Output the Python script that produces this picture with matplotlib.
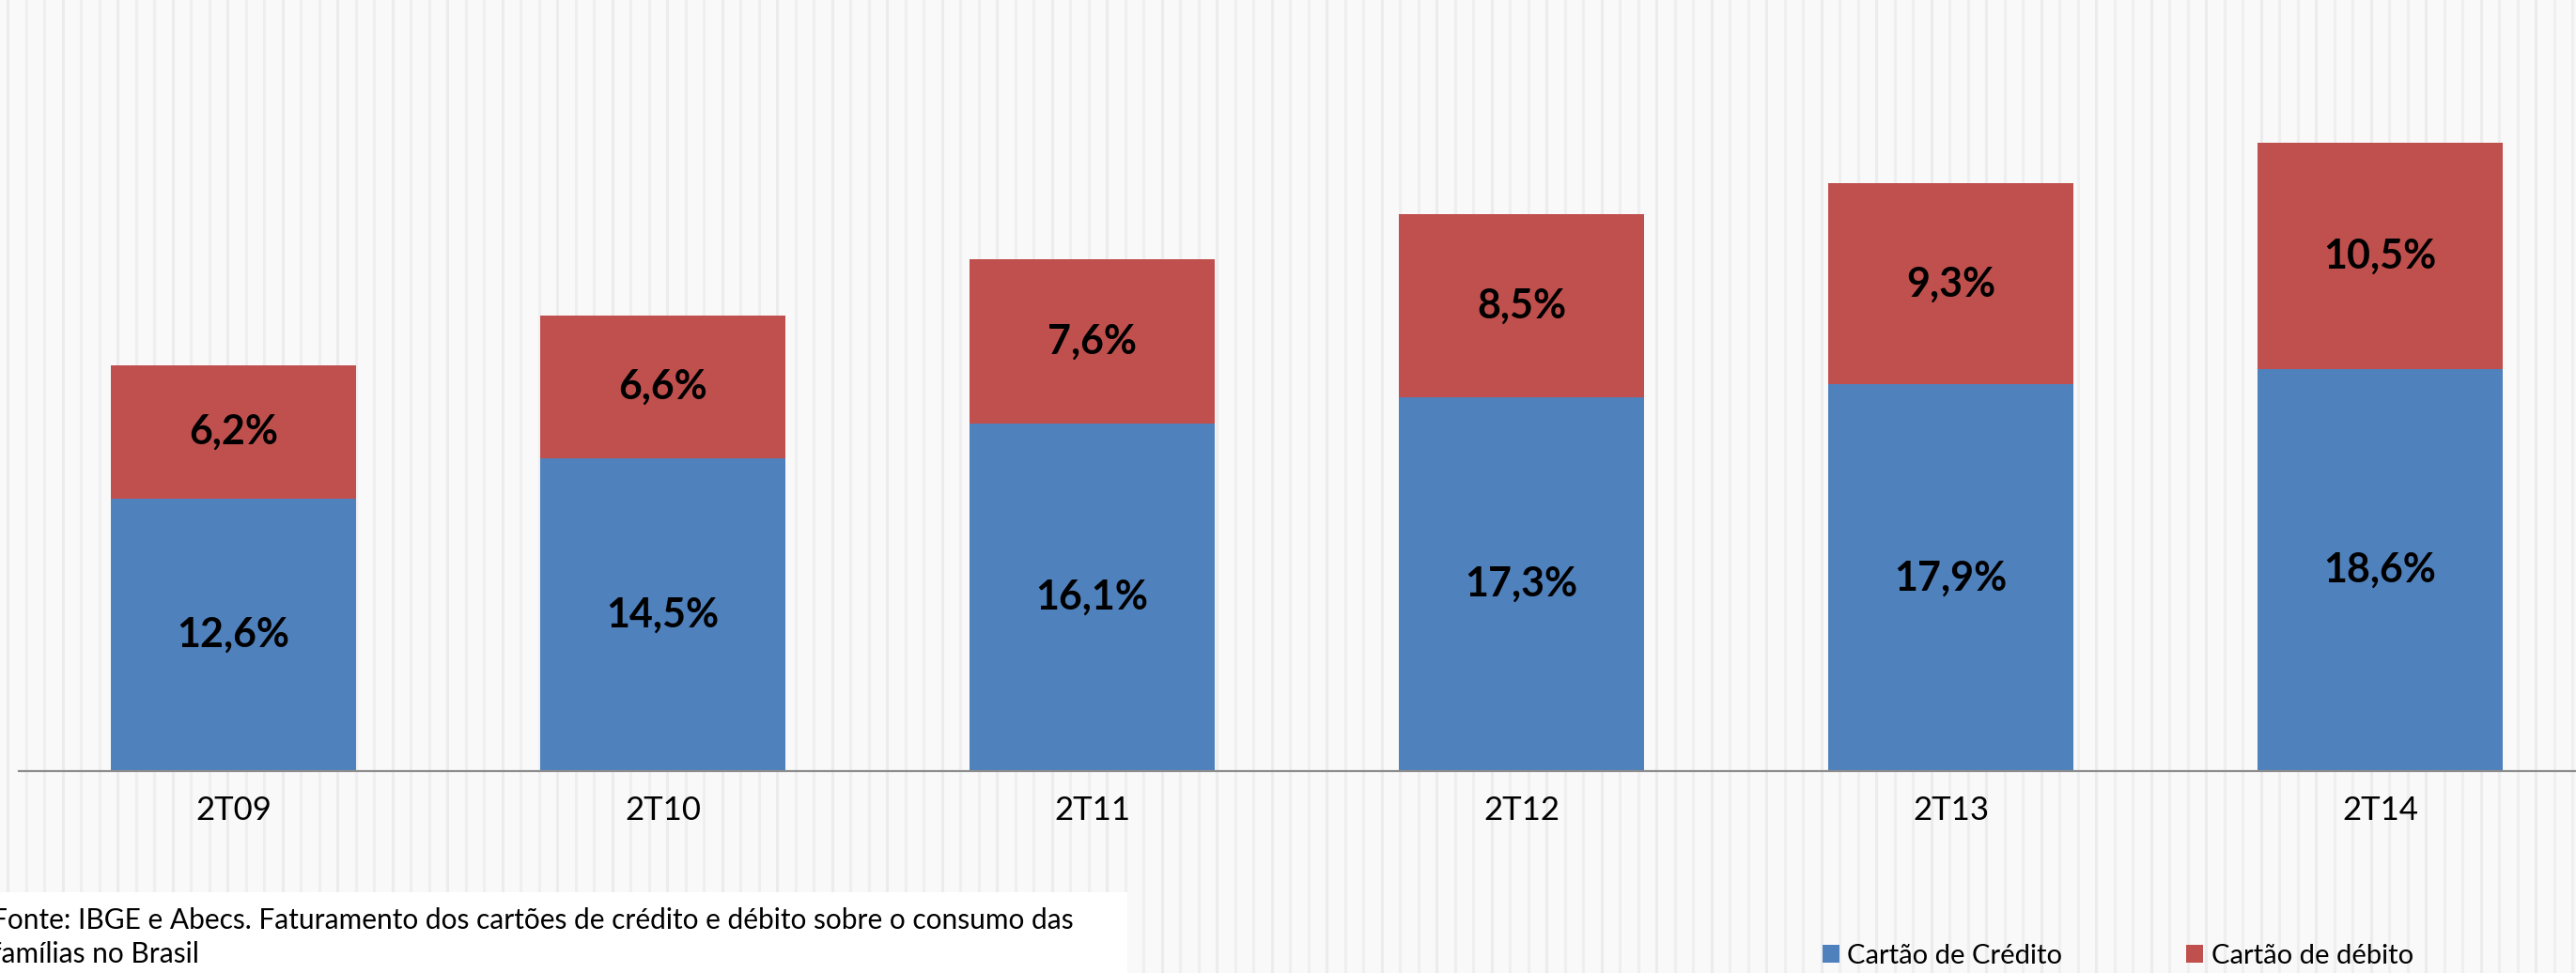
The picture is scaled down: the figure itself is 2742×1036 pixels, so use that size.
import numpy as np
import matplotlib
matplotlib.use("Agg")
import matplotlib.pyplot as plt
from matplotlib.patches import Rectangle

plt.rcParams["font.family"] = ["Lato", "DejaVu Sans"]

# ---------------------------
# Data
# ---------------------------
periods = ["2T09", "2T10", "2T11", "2T12", "2T13", "2T14"]
credito = [12.6, 14.5, 16.1, 17.3, 17.9, 18.6]
debito = [6.2, 6.6, 7.6, 8.5, 9.3, 10.5]

series_names = ["Cartão de Crédito", "Cartão de débito"]
footnote = ("Fonte: IBGE e Abecs. Faturamento dos cartões de crédito e débito sobre o consumo das\n"
            "famílias no Brasil")

BLUE = "#4F81BD"
RED = "#C0504D"

W, H = 2742, 1036
fig = plt.figure(figsize=(W / 100, H / 100), dpi=100)
fig.patch.set_facecolor("#f9f9fa")

# ---------------------------
# Striped slide background
# ---------------------------
bg = fig.add_axes([0, 0, 1, 1], zorder=-5)
bg.set_xlim(0, W)
bg.set_ylim(0, H)
bg.axis("off")
for i, sx in enumerate(np.arange(8, W, 19.5)):
    shade = "#ececee" if i % 3 else "#e7e7e9"
    bg.axvline(sx, color=shade, linewidth=2.2, alpha=0.7)
# white box behind the source note
bg.add_patch(Rectangle((0, 0), 1200, 86, facecolor="white", edgecolor="none", zorder=3))

# ---------------------------
# Stacked bars
# ---------------------------
ax = fig.add_axes([20 / W, 215 / H, 1.0, 821 / H])
ax.set_facecolor("none")
x = np.arange(len(periods))
b1 = ax.bar(x, credito, width=0.573, color=BLUE, label=series_names[0])
b2 = ax.bar(x, debito, width=0.573, bottom=credito, color=RED, label=series_names[1])

for i in range(len(periods)):
    ax.text(x[i], credito[i] / 2, f"{credito[i]:.1f}".replace(".", ",") + "%",
            ha="center", va="center", fontsize=31, fontweight="bold", color="black")
    ax.text(x[i], credito[i] + debito[i] / 2, f"{debito[i]:.1f}".replace(".", ",") + "%",
            ha="center", va="center", fontsize=31, fontweight="bold", color="black")

ax.set_xlim(-0.5, 5.5)
ax.set_ylim(0, 35.7)
ax.set_xticks(x)
ax.set_xticklabels(periods, fontsize=25)
ax.tick_params(axis="x", length=0, pad=19)
ax.set_yticks([])
for s in ["left", "right", "top"]:
    ax.spines[s].set_visible(False)
ax.spines["bottom"].set_color("#8c8c8c")
ax.spines["bottom"].set_linewidth(1.6)

# ---------------------------
# Source note and legend
# ---------------------------
fig.text(-9 / W, 38 / H, footnote, fontsize=21.5, va="center", ha="left",
         linespacing=1.35, color="black")

leg = fig.legend(handles=[b1, b2], loc="center left", bbox_to_anchor=(1928 / W, 18 / H),
                 ncol=2, frameon=False, fontsize=21, handlelength=0.62, handleheight=0.62,
                 handletextpad=0.3, columnspacing=4.5, borderaxespad=0)

fig.savefig("out.png", dpi=100, facecolor=fig.get_facecolor())
